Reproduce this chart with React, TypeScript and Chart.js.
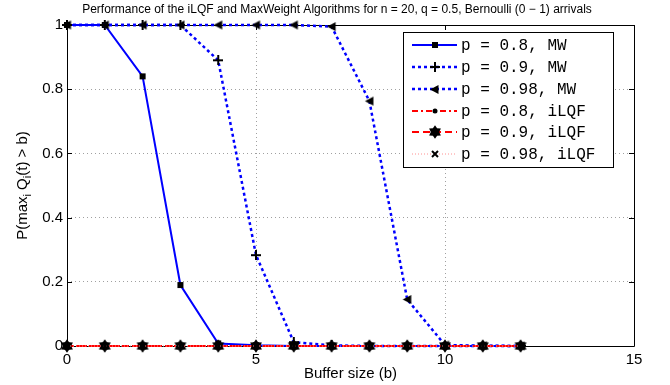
import React, { useEffect, useRef } from 'react';
import { Chart, registerables } from 'chart.js';

Chart.register(...registerables);

const bufferSizes = [0, 1, 2, 3, 4, 5, 6, 7, 8, 9, 10, 11, 12];
const mwP08 = [1, 1, 0.84, 0.19, 0.008, 0.002, 0, 0, 0, 0, 0, 0, 0];
const mwP09 = [1, 1, 1, 1, 0.89, 0.283, 0.012, 0.002, 0, 0, 0, 0, 0];
const mwP098 = [1, 1, 1, 1, 1, 1, 1, 0.995, 0.763, 0.145, 0.003, 0.001, 0];
const iLqfP08 = [0, 0, 0, 0, 0, 0, 0, 0, 0, 0, 0, 0, 0];
const iLqfP09 = [0, 0, 0, 0, 0, 0, 0, 0, 0, 0, 0, 0, 0];
const iLqfP098 = [0, 0, 0, 0, 0, 0, 0, 0, 0, 0, 0, 0, 0];
const seriesLabels = [
  'p = 0.8, MW',
  'p = 0.9, MW',
  'p = 0.98, MW',
  'p = 0.8, iLQF',
  'p = 0.9, iLQF',
  'p = 0.98, iLQF',
];
const xTickValues = [0, 5, 10, 15];
const yTickValues = [0, 0.2, 0.4, 0.6, 0.8, 1];
const titleText =
  'Performance of the iLQF and MaxWeight Algorithms for n = 20, q = 0.5, Bernoulli (0 \u2212 1) arrivals';
const xAxisLabel = 'Buffer size (b)';

const SANS = '"Liberation Sans", Arial, Helvetica, sans-serif';
const MONO = '"Liberation Mono", "Courier New", monospace';

function makeCanvas(size: number, draw: (ctx: CanvasRenderingContext2D, c: number) => void) {
  const cv = document.createElement('canvas');
  cv.width = size;
  cv.height = size;
  const ctx = cv.getContext('2d')!;
  ctx.fillStyle = '#000';
  ctx.strokeStyle = '#000';
  draw(ctx, size / 2);
  return cv;
}

function buildMarkers() {
  const square = makeCanvas(8, (ctx) => {
    ctx.fillRect(1, 1, 6, 6);
  });
  const plus = makeCanvas(10, (ctx) => {
    ctx.fillRect(0, 4, 10, 2);
    ctx.fillRect(4, 0, 2, 10);
  });
  const triLeft = makeCanvas(11, (ctx) => {
    ctx.beginPath();
    ctx.moveTo(1, 5.5);
    ctx.lineTo(9.5, 1);
    ctx.lineTo(9.5, 10);
    ctx.closePath();
    ctx.fill();
  });
  const circle = makeCanvas(6, (ctx, c) => {
    ctx.beginPath();
    ctx.arc(c, c, 2.5, 0, Math.PI * 2);
    ctx.fill();
  });
  const hexagram = makeCanvas(14, (ctx, c) => {
    ctx.beginPath();
    for (let i = 0; i < 12; i++) {
      const r = i % 2 === 0 ? 6.8 : 4.2;
      const a = (i * Math.PI) / 6 - Math.PI / 2;
      const px = c + r * Math.cos(a);
      const py = c + r * Math.sin(a);
      if (i === 0) ctx.moveTo(px, py);
      else ctx.lineTo(px, py);
    }
    ctx.closePath();
    ctx.fill();
  });
  const xmark = makeCanvas(8, (ctx) => {
    ctx.lineWidth = 2;
    ctx.beginPath();
    ctx.moveTo(1, 1);
    ctx.lineTo(7, 7);
    ctx.moveTo(7, 1);
    ctx.lineTo(1, 7);
    ctx.stroke();
  });
  return [square, plus, triLeft, circle, hexagram, xmark];
}

const seriesValues = [mwP08, mwP09, mwP098, iLqfP08, iLqfP09, iLqfP098];
const seriesColors = ['#0000ff', '#0000ff', '#0000ff', '#ff0000', '#ff0000', '#ff9090'];
const seriesWidths = [2, 2.5, 2.5, 2, 2, 1];
const seriesDashes: number[][] = [[], [3, 3], [3, 3], [6, 3, 2, 3], [7, 4], [1, 2]];

export default function App() {
  const ref = useRef<HTMLCanvasElement | null>(null);

  useEffect(() => {
    const canvas = ref.current;
    if (!canvas) return;
    const markers = buildMarkers();

    const datasets = seriesValues.map((vals, i) => ({
      label: seriesLabels[i],
      data: bufferSizes.map((b, j) => ({ x: b, y: vals[j] })),
      borderColor: seriesColors[i],
      backgroundColor: seriesColors[i],
      borderWidth: seriesWidths[i],
      borderDash: seriesDashes[i],
      pointStyle: markers[i] as any,
      pointRadius: 5,
      pointHoverRadius: 5,
      tension: 0,
      fill: false,
      clip: false as any,
      order: 5 - i,
    }));

    const overlay = {
      id: 'matlabDecor',
      beforeDatasetsDraw(chart: any) {
        const { ctx, chartArea: a, scales } = chart;
        ctx.save();
        ctx.strokeStyle = '#000';
        ctx.lineWidth = 1;
        ctx.setLineDash([]);
        ctx.beginPath();
        ctx.rect(Math.round(a.left) + 0.5, Math.round(a.top) + 0.5, Math.round(a.right - a.left), Math.round(a.bottom - a.top));
        ctx.stroke();
        const tl = 5;
        ctx.beginPath();
        xTickValues.forEach((v) => {
          const px = Math.round(scales.x.getPixelForValue(v)) + 0.5;
          ctx.moveTo(px, a.bottom);
          ctx.lineTo(px, a.bottom - tl);
          ctx.moveTo(px, a.top);
          ctx.lineTo(px, a.top + tl);
        });
        yTickValues.forEach((v) => {
          const py = Math.round(scales.y.getPixelForValue(v)) + 0.5;
          ctx.moveTo(a.left, py);
          ctx.lineTo(a.left + tl, py);
          ctx.moveTo(a.right, py);
          ctx.lineTo(a.right - tl, py);
        });
        ctx.stroke();
        ctx.restore();
      },
      afterDraw(chart: any) {
        const { ctx, chartArea: a } = chart;
        ctx.save();
        // title
        ctx.fillStyle = '#000';
        ctx.font = `12px ${SANS}`;
        ctx.textAlign = 'center';
        ctx.textBaseline = 'middle';
        ctx.fillText(titleText, 337, 10);
        // x label
        ctx.font = `15px ${SANS}`;
        ctx.fillText(xAxisLabel, (a.left + a.right) / 2, 374);
        // y label with subscripts
        ctx.translate(22, (a.top + a.bottom) / 2);
        ctx.rotate(-Math.PI / 2);
        const parts: [string, boolean][] = [
          ['P(max', false],
          ['i', true],
          [' Q', false],
          ['i', true],
          ['(t) > b)', false],
        ];
        const mainFont = `15px ${SANS}`;
        const subFont = `11px ${SANS}`;
        let total = 0;
        parts.forEach(([t, s]) => {
          ctx.font = s ? subFont : mainFont;
          total += ctx.measureText(t).width;
        });
        let cx = -total / 2;
        ctx.textAlign = 'left';
        ctx.textBaseline = 'alphabetic';
        parts.forEach(([t, s]) => {
          ctx.font = s ? subFont : mainFont;
          ctx.fillText(t, cx, s ? 9 : 5);
          cx += ctx.measureText(t).width;
        });
        ctx.restore();

        // legend
        ctx.save();
        const lx = 403.5, ly = 32.5, lw = 210, lh = 135;
        ctx.fillStyle = '#fff';
        ctx.fillRect(lx, ly, lw, lh);
        ctx.strokeStyle = '#000';
        ctx.lineWidth = 1;
        ctx.strokeRect(lx, ly, lw, lh);
        const rowY = [45, 67, 89, 111, 132, 154];
        seriesLabels.forEach((label, i) => {
          const y = rowY[i];
          ctx.strokeStyle = seriesColors[i];
          ctx.lineWidth = seriesWidths[i];
          ctx.setLineDash(seriesDashes[i]);
          ctx.beginPath();
          ctx.moveTo(412, y);
          ctx.lineTo(457, y);
          ctx.stroke();
          ctx.setLineDash([]);
          const m = markers[i];
          ctx.drawImage(m, Math.round(434.5 - m.width / 2), Math.round(y - m.height / 2));
          ctx.fillStyle = '#000';
          ctx.font = `16px ${MONO}`;
          ctx.textAlign = 'left';
          ctx.textBaseline = 'middle';
          ctx.fillText(label, 461, y + 1);
        });
        ctx.restore();
      },
    };

    const chart = new Chart(canvas, {
      type: 'line',
      data: { datasets: datasets as any },
      options: {
        responsive: false,
        animation: false,
        events: [],
        layout: { padding: { top: 25, right: 36, left: 0, bottom: 0 } },
        plugins: {
          legend: { display: false },
          title: { display: false },
          tooltip: { enabled: false },
        },
        scales: {
          x: {
            type: 'linear',
            min: 0,
            max: 15,
            border: { display: false, dash: [1, 3] },
            grid: {
              color: '#a0a0a0',
              lineWidth: 1,
              drawTicks: false,
            },
            ticks: {
              stepSize: 5,
              autoSkip: false,
              maxRotation: 0,
              padding: 5,
              color: '#000',
              font: { family: SANS, size: 15 },
              callback: (v: any) => String(v),
            },
            afterFit: (s: any) => {
              s.height = 39;
            },
          },
          y: {
            type: 'linear',
            min: 0,
            max: 1,
            border: { display: false, dash: [1, 3] },
            grid: {
              color: '#a0a0a0',
              lineWidth: 1,
              drawTicks: false,
            },
            ticks: {
              stepSize: 0.2,
              autoSkip: false,
              padding: 4,
              color: '#000',
              font: { family: SANS, size: 15 },
              callback: (v: any) => String(Math.round(Number(v) * 10) / 10),
            },
            afterFit: (s: any) => {
              s.width = 67;
            },
          },
        },
      } as any,
      plugins: [overlay],
    });

    return () => chart.destroy();
  }, []);

  return (
    <div style={{ position: 'fixed', left: 0, top: 0, width: 670, height: 385, background: '#fff' }}>
      <canvas ref={ref} width={670} height={385} style={{ display: 'block', width: 670, height: 385 }} />
    </div>
  );
}
